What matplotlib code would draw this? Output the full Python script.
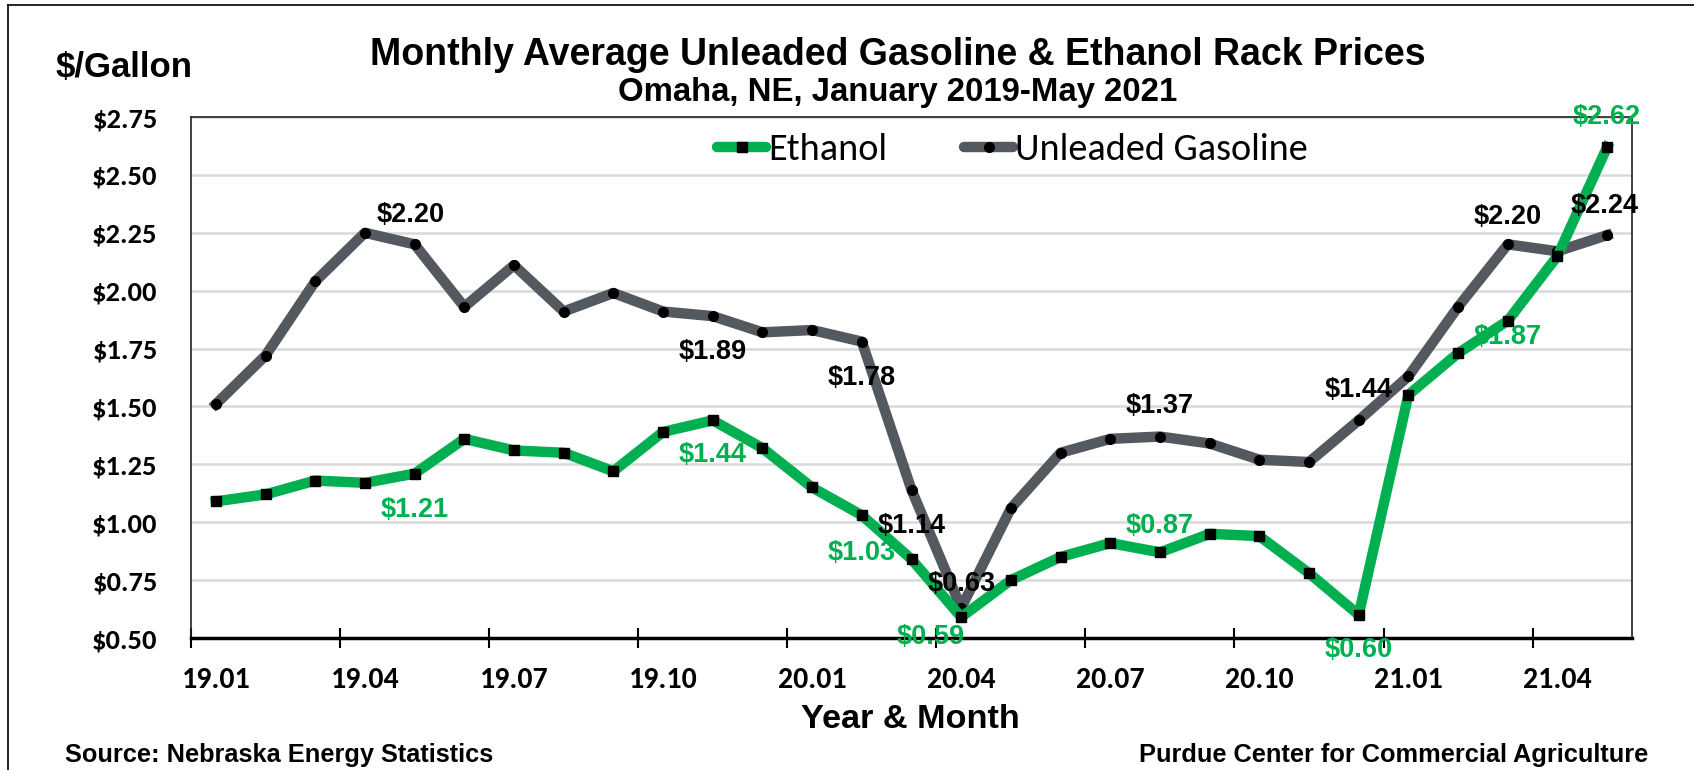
import matplotlib
matplotlib.use('Agg')
import matplotlib.pyplot as plt
from matplotlib.lines import Line2D

plt.rcParams['font.family'] = ['Liberation Sans', 'DejaVu Sans']

months = ['19.01', '19.02', '19.03', '19.04', '19.05', '19.06', '19.07', '19.08', '19.09', '19.10',
          '19.11', '19.12', '20.01', '20.02', '20.03', '20.04', '20.05', '20.06', '20.07', '20.08',
          '20.09', '20.10', '20.11', '20.12', '21.01', '21.02', '21.03', '21.04', '21.05']

gasoline = [1.51, 1.72, 2.04, 2.25, 2.20, 1.93, 2.11, 1.91, 1.99, 1.91,
            1.89, 1.82, 1.83, 1.78, 1.14, 0.63, 1.06, 1.30, 1.36, 1.37,
            1.34, 1.27, 1.26, 1.44, 1.63, 1.93, 2.20, 2.17, 2.24]

ethanol = [1.09, 1.12, 1.18, 1.17, 1.21, 1.36, 1.31, 1.30, 1.22, 1.39,
           1.44, 1.32, 1.15, 1.03, 0.84, 0.59, 0.75, 0.85, 0.91, 0.87,
           0.95, 0.94, 0.78, 0.60, 1.55, 1.73, 1.87, 2.15, 2.62]

yticks = [0.50, 0.75, 1.00, 1.25, 1.50, 1.75, 2.00, 2.25, 2.50, 2.75]

# which points get a data label, with offset in points (dx, dy)
gas_labels = [(4, -3, 21), (10, 0, -26), (13, 0, -26), (14, 0, -26), (15, 0, 17),
              (19, 0, 22), (23, 0, 22), (26, 0, 20), (28, -2, 21)]
eth_labels = [(4, 0, -26), (10, 0, -25), (13, 0, -27), (15, -22, -14), (19, 0, 19),
              (23, 0, -25), (26, 0, -12), (28, 0, 22)]

green = '#00B050'
gray = '#54585F'
tickfont = ['Carlito', 'DejaVu Sans']

fig = plt.figure(figsize=(16.94, 7.70), dpi=100)
ax = fig.add_axes([191/1694, 1-638/770, 1441/1694, 521/770])

x = list(range(len(months)))
ax.plot(x, gasoline, color=gray, lw=7.5, marker='o', ms=7, mfc='black', mec='black',
        solid_joinstyle='round', zorder=3, label='Unleaded Gasoline')
ax.plot(x, ethanol, color=green, lw=7.5, marker='s', ms=7, mfc='black', mec='black',
        solid_joinstyle='round', zorder=4, label='Ethanol')

for i, dx, dy in gas_labels:
    ax.annotate('$%.2f' % gasoline[i], (x[i], gasoline[i]), xytext=(dx, dy),
                textcoords='offset points', ha='center', va='center',
                fontsize=19.5, fontweight='bold', color='black', zorder=6)
for i, dx, dy in eth_labels:
    ax.annotate('$%.2f' % ethanol[i], (x[i], ethanol[i]), xytext=(dx, dy),
                textcoords='offset points', ha='center', va='center',
                fontsize=19.5, fontweight='bold', color=green, zorder=6)

ax.set_xlim(-0.5, len(months) - 0.5)
ax.set_ylim(0.5, 2.75)
ax.set_yticks(yticks)
ax.set_yticklabels(['$%.2f' % v for v in yticks])
ax.set_xticks([i + 0.5 for i in range(-1, len(months) - 1, 3)])
ax.set_xticklabels([])
ax.set_xticks(x[::3], minor=True)
ax.set_xticklabels(months[::3], minor=True)
ax.tick_params(axis='x', which='major', direction='inout', length=14, width=1.5, color='black')
ax.tick_params(axis='x', which='minor', length=0, pad=21)
ax.tick_params(axis='y', length=0, pad=24)
for lab in ax.get_xticklabels(minor=True):
    lab.set_fontweight('bold')
    lab.set_family(tickfont)
    lab.set_fontsize(21.5)
for lab in ax.get_yticklabels():
    lab.set_fontweight('bold')
    lab.set_family(tickfont)
    lab.set_fontsize(20.5)

ax.grid(axis='y', color='#D9D9D9', lw=1.8, zorder=0)
ax.set_axisbelow(True)
for s in ['left', 'right', 'top']:
    ax.spines[s].set_linewidth(1.2)
    ax.spines[s].set_color('#222222')
ax.spines['bottom'].set_linewidth(2.5)
ax.spines['bottom'].set_color('black')

handles = [Line2D([], [], color=green, lw=7.5, marker='s', ms=7, mfc='black', mec='black',
                  solid_capstyle='round'),
           Line2D([], [], color=gray, lw=7.5, marker='o', ms=7, mfc='black', mec='black',
                  solid_capstyle='round')]
ax.legend(handles, ['Ethanol', 'Unleaded Gasoline'], loc='center', bbox_to_anchor=(0.57, 0.937),
          ncol=2, frameon=False, handlelength=1.3, handletextpad=0.05, columnspacing=2.0,
          prop={'family': 'Carlito', 'size': 27.5})

fig.text(898/1694, 1-55/770, 'Monthly Average Unleaded Gasoline & Ethanol Rack Prices',
         ha='center', va='center', fontsize=27, fontweight='bold')
fig.text(898/1694, 1-93/770, 'Omaha, NE, January 2019-May 2021',
         ha='center', va='center', fontsize=23.7, fontweight='bold')
fig.text(56/1694, 1-68/770, '$/Gallon', ha='left', va='center', fontsize=25, fontweight='bold')
fig.text(910/1694, 1-720/770, 'Year & Month', ha='center', va='center', fontsize=24.7,
         fontweight='bold')
fig.text(65/1694, 1-755/770, 'Source: Nebraska Energy Statistics', ha='left', va='center',
         fontsize=18.3, fontweight='bold')
fig.text(1648/1694, 1-755/770, 'Purdue Center for Commercial Agriculture', ha='right',
         va='center', fontsize=18.3, fontweight='bold')

# outer chart frame
fig.add_artist(Line2D([8/1694, 1.0], [1-5/770, 1-5/770], color='black', lw=1.2))
fig.add_artist(Line2D([8/1694, 8/1694], [0.0, 1-5/770], color='black', lw=1.2))

fig.savefig('out.png', dpi=100)
